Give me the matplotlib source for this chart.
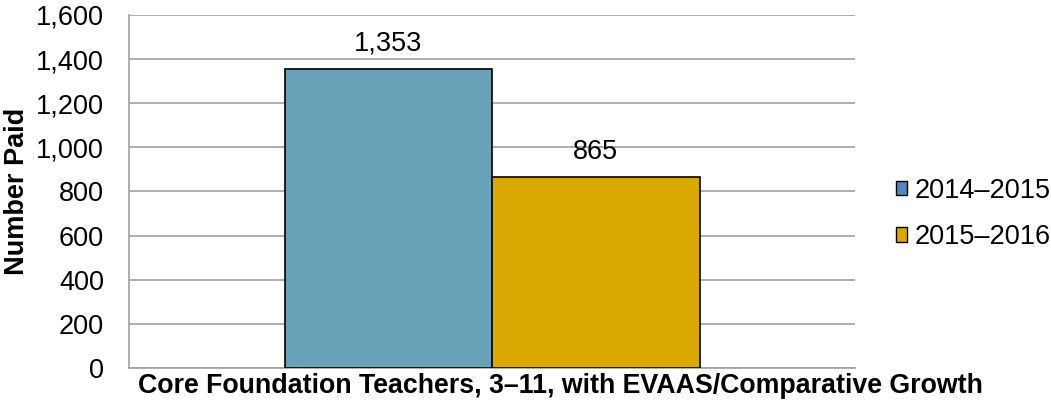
import matplotlib
matplotlib.use("Agg")
import matplotlib.pyplot as plt
from matplotlib.patches import Patch
from matplotlib.ticker import FuncFormatter

plt.rcParams['font.family'] = ['Liberation Sans', 'DejaVu Sans']

category = "Core Foundation Teachers, 3\u201311, with EVAAS/Comparative Growth"
series = ["2014\u20132015", "2015\u20132016"]
values = [1353, 865]
bar_colors = ["#68A3B9", "#DAA800"]
legend_colors = ["#5585C0", "#DAA800"]

FS = 19.5

fig = plt.figure(figsize=(10.51, 4.03), dpi=100)
ax = fig.add_axes([129 / 1051, 1 - 368 / 403, (855 - 129) / 1051, (368 - 15) / 403])

width = 415 / 726 / 2
offsets = [-width / 2, width / 2]
for off, v, c in zip(offsets, values, bar_colors):
    ax.bar(off, v, width=width, color=c, edgecolor="black", linewidth=1.2, zorder=3)
    ax.annotate(f"{v:,}", (off, v), xytext=(0, 9), textcoords="offset points",
                ha="center", va="bottom", fontsize=FS)

ax.set_xlim(-0.5, 0.5)
ax.set_ylim(0, 1600)
ax.set_yticks(range(0, 1601, 200))
ax.yaxis.set_major_formatter(FuncFormatter(lambda y, _: f"{int(y):,}"))
ax.set_xticks([])
ax.grid(axis="y", color="#A0A0A0", linewidth=1.2, zorder=0)
ax.tick_params(axis="y", length=0, labelsize=FS, pad=18)
for s in ["top", "right"]:
    ax.spines[s].set_visible(False)
for s in ["left", "bottom"]:
    ax.spines[s].set_color("#A0A0A0")
    ax.spines[s].set_linewidth(1.2)

ax.set_xlabel(category, fontsize=19.3, fontweight="bold")
ax.xaxis.set_label_coords((560 - 129) / 726, (368 - 386) / 353)
ax.xaxis.label.set_va("center")
ax.set_ylabel("Number Paid", fontsize=FS, fontweight="bold")
ax.yaxis.set_label_coords((17 - 129) / 726, 0.5)
ax.yaxis.label.set_va("center")

handles = [Patch(facecolor=c, edgecolor="black", linewidth=1.0) for c in legend_colors]
fig.legend(handles, series, loc="center left", bbox_to_anchor=(896 / 1051, 1 - 214 / 403),
           frameon=False, fontsize=FS, handlelength=0.42, handleheight=0.42,
           handletextpad=0.25, labelspacing=0.75, borderpad=0, borderaxespad=0)

fig.savefig("out.png", dpi=100, facecolor="white")
